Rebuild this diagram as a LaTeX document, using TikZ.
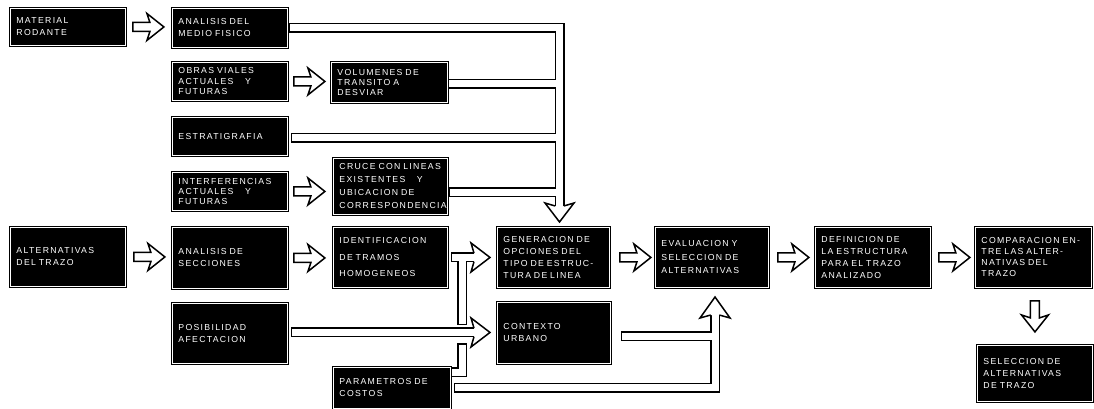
\documentclass[tikz,border=0pt]{standalone}
\usepackage{fontspec}
\newfontfamily\boxfont[LetterSpace=15]{Liberation Sans}
\usetikzlibrary{calc}
\pgfdeclarelayer{bg}
\pgfsetlayers{bg,main}
\newcommand\tsz[1]{\fontsize{8.7}{#1}\selectfont}
\tikzset{
  box/.style 2 args={fill=black, draw=black, double=white, double distance=0.6pt,
    line width=0.9pt, anchor=north west, inner sep=0pt, text=white,
    minimum width=#1pt, minimum height=#2pt, text width=#1pt-12pt, align=left,
    font={\boxfont\tsz{12}}},
  pipehead/.style={fill=white, draw=black, line width=1.5pt, line join=miter},
  harr/.pic={\filldraw[pipehead] (0,-4.5) -- (17,-4.5) -- (14,-13.5) -- (31,0)
     -- (14,13.5) -- (17,4.5) -- (0,4.5) -- cycle;}
}
\begin{document}
\begin{tikzpicture}[x=1pt,y=-1pt]
\useasboundingbox (0,0) rectangle (1094,409);

% ---- boxes ----
\node[box={115}{37}] (mat) at (10,8) {MATERIAL\\RODANTE};
\node[box={115}{39}] (amf) at (172,8) {ANALISIS~DEL\\MEDIO~FISICO};
\node[box={115}{38}, font={\boxfont\tsz{10.5}}] (obras) at (172,62) {OBRAS~VIALES\\ACTUALES~\quad Y\\FUTURAS};
\node[box={116}{40}, font={\boxfont\tsz{10}}] (vol) at (331,62) {VOLUMENES~DE\\TRANSITO~A\\DESVIAR};
\node[box={115}{38}] (estr) at (172,117) {ESTRATIGRAFIA};
\node[box={115}{38}, font={\boxfont\tsz{10}}] (interf) at (172,172) {INTERFERENCIAS\\ACTUALES~\quad Y\\FUTURAS};
\node[box={114}{56}, font={\boxfont\tsz{13}}] (cruce) at (333,158) {CRUCE~CON~LINEAS\\EXISTENTES~\quad Y\\UBICACION~DE\\CORRESPONDENCIA};
\node[box={115}{59}] (alt) at (10,227) {ALTERNATIVAS\\DEL~TRAZO};
\node[box={115}{61}] (secc) at (172,227) {ANALISIS~DE\\SECCIONES};
\node[box={114}{60}, font={\boxfont\tsz{16.5}}] (ident) at (333,227) {IDENTIFICACION\\DE~TRAMOS\\HOMOGENEOS};
\node[box={115}{60}] (posib) at (172,303) {POSIBILIDAD\\AFECTACION};
\node[box={117}{41}] (param) at (333,367) {PARAMETROS~DE\\COSTOS};
\node[box={112}{60}] (gen) at (497,227) {GENERACION~DE\\OPCIONES~DEL\\TIPO~DE~ESTRUC-\\TURA~DE~LINEA};
\node[box={113}{61}] (ctx) at (497,302) {CONTEXTO\\URBANO};
\node[box={113}{60}, font={\boxfont\tsz{13.5}}] (eval) at (655,227) {EVALUACION~Y\\SELECCION~DE\\ALTERNATIVAS};
\node[box={115}{60}] (def) at (815,227) {DEFINICION~DE\\LA~ESTRUCTURA\\PARA~EL~TRAZO\\ANALIZADO};
\node[box={116}{60}, font={\boxfont\tsz{11}}] (comp) at (975,227) {COMPARACION~EN-\\TRE~LAS~ALTER-\\NATIVAS~DEL\\TRAZO};
\node[box={115}{56}] (sel) at (977,345) {SELECCION~DE\\ALTERNATIVAS\\DE~TRAZO};

% ---- pipe coordinates ----
\coordinate (vx) at (559.5,0);
\coordinate (dh) at (559.5,206);
\coordinate (gx) at (474,0);
\coordinate (vx2) at (462,0);
\coordinate (vx3) at (715,0);
\coordinate (uh) at (715,315);
\coordinate (s1) at ($(amf.east)+(6,0)$);
\coordinate (s2) at ($(vol.east)+(5,1.5)$);
\coordinate (s3) at ($(estr.east)+(8,1.5)$);
\coordinate (s4) at ($(cruce.east)+(6,6)$);
\coordinate (s5) at ($(ident.east)+(8,0)$);
\coordinate (s6) at ($(posib.east)+(8,-1)$);
\coordinate (s7) at ($(ctx.east)+(15,3.5)$);
\coordinate (s8) at ($(param.east)+(8,0)$);
\coordinate (s10) at ($(param.north east)+(0,5)$);
\coordinate (c9) at (462,348);
\coordinate (c10) at (462,320);

\begin{pgfonlayer}{bg}
\foreach \w/\c in {10/black,7/white}{
  \draw[line width=\w pt, draw=\c, line cap=rect, line join=miter]
    (s1) -- (s1 -| vx) -- (dh)
    (s2) -- (s2 -| vx)
    (s3) -- (s3 -| vx)
    (s4) -- (s4 -| vx)
    (s5) -- (s5 -| gx)
    (s5 -| vx2) -- (c10)
    (s6) -- (s6 -| gx)
    (c9) -- (c9 |- s10) -- (s10)
    (s8) -- (s8 -| vx3) -- (uh)
    (s7) -- (s7 -| vx3);
}
\filldraw[pipehead, shift={(dh)}] (-4.25,0) -- (-14.5,-3) -- (0,16) -- (14.5,-3) -- (4.25,0);
\filldraw[pipehead, shift={(uh)}] (-4.25,0) -- (-15,3) -- (0,-18) -- (15,3) -- (4.25,0);
\filldraw[pipehead, shift={(s5 -| gx)}] (0,-4.25) -- (-3,-14.5) -- (16,0) -- (-3,14.5) -- (0,4.25);
\filldraw[pipehead, shift={(s6 -| gx)}] (0,-4.25) -- (-3,-14.5) -- (16,0) -- (-3,14.5) -- (0,4.25);
\end{pgfonlayer}

% ---- hollow arrows between boxes ----
\pic at ($(mat.east)+(7,0)$) {harr};
\pic at ($(obras.east)+(6,0)$) {harr};
\pic at ($(interf.east)+(6,0)$) {harr};
\pic at ($(alt.east)+(8,0)$) {harr};
\pic at ($(secc.east)+(6,0)$) {harr};
\pic at ($(gen.east)+(10,0)$) {harr};
\pic at ($(eval.east)+(9,0)$) {harr};
\pic at ($(def.east)+(8,0)$) {harr};
\pic[rotate=-90] at ($(comp.south)+(1.5,13)$) {harr};
\end{tikzpicture}
\end{document}
